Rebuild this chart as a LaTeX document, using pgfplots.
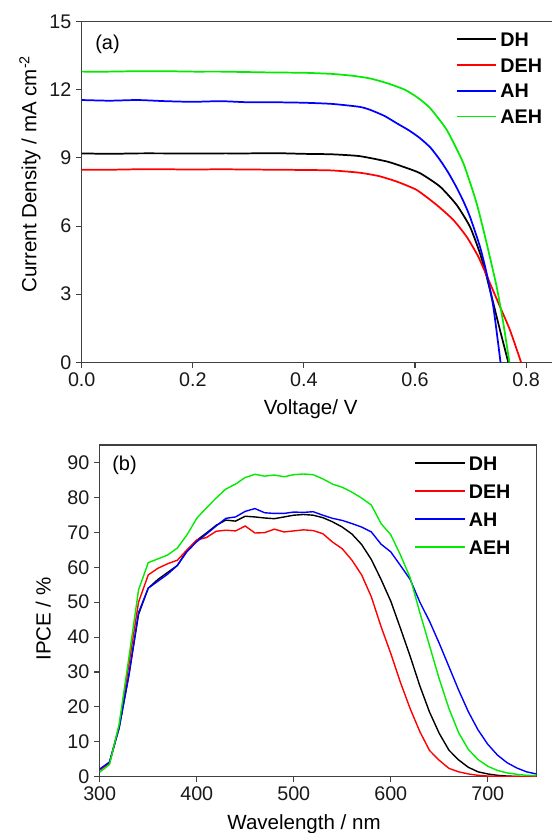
\documentclass[border=0pt]{standalone}
\usepackage{pgfplots}
\pgfplotsset{compat=1.18}
\usepackage{fontspec}
\setmainfont{Liberation Sans}
\definecolor{cgreen}{RGB}{0,235,0}
\definecolor{cred}{RGB}{255,0,0}
\definecolor{cblue}{RGB}{0,0,255}
\begin{document}
\begin{tikzpicture}
\pgfplotsset{
  every axis/.append style={
    scale only axis,
    anchor=south west,
    axis line style={black!75, line width=0.8pt},
    tick style={black!75, line width=0.8pt},
    major tick length=4.2pt,
    tick align=outside,
    tick pos=left,
    /pgf/number format/assume math mode=true,
    tick label style={font=\fontsize{14.8}{17}\selectfont, text=black!90},
    legend cell align=left,
  },
}
% ---------------- (a) ----------------
\begin{axis}[
  at={(61.3pt,353.0pt)},
  width=354.1pt, height=255.5pt,
  xmin=0, xmax=0.85, ymin=0, ymax=15,
  xtick={0,0.2,0.4,0.6,0.8},
  ytick={0,3,6,9,12,15},
  xticklabel style={/pgf/number format/.cd,fixed,fixed zerofill,precision=1},
  xlabel={Voltage/ V},
  ylabel={Current Density / mA cm\textsuperscript{-2}},
  every axis x label/.style={at={(axis description cs:0.4849,-0.138)}, anchor=center, inner sep=0pt, font=\fontsize{15.4}{18}\selectfont},
  every axis y label/.style={at={(axis description cs:-0.1095,0.5529)}, rotate=90, anchor=center, inner sep=0pt, font=\fontsize{15.4}{18}\selectfont},
  legend style={at={(axis description cs:0.7915,0.9698)}, anchor=north west, draw=none, fill=none, inner sep=0pt, row sep=8.7pt, column sep=0pt,
    nodes={inner xsep=2.6pt, inner ysep=0pt, text height=10.6pt, text depth=0pt, font=\fontsize{14.8}{17}\selectfont\bfseries}},
  legend image code/.code={\draw[#1, line width=1.4pt] (0pt,0pt) -- (29.5pt,0pt);},
]
\addplot[black, line width=1.3pt, smooth, tension=0.35] coordinates {
(0,9.2) (0.05,9.18) (0.1,9.2) (0.15,9.2) (0.2,9.19) (0.25,9.2) (0.3,9.2) (0.35,9.21) (0.4,9.18) (0.45,9.16)
(0.5,9.08) (0.55,8.84) (0.58,8.6) (0.609,8.33) (0.645,7.74) (0.675,6.93) (0.699,5.97) (0.717,4.8)
(0.729,3.77) (0.741,2.6) (0.753,1.42) (0.768,0)};
\addlegendentry{DH}
\addplot[cred, line width=1.3pt, smooth, tension=0.35] coordinates {
(0,8.48) (0.05,8.48) (0.1,8.5) (0.15,8.5) (0.2,8.49) (0.25,8.5) (0.3,8.49) (0.35,8.48) (0.4,8.47) (0.45,8.45)
(0.5,8.35) (0.535,8.2) (0.567,7.96) (0.603,7.59) (0.639,6.93) (0.669,6.27) (0.693,5.53) (0.714,4.65)
(0.735,3.48) (0.753,2.45) (0.771,1.42) (0.791,0)};
\addlegendentry{DEH}
\addplot[cblue, line width=1.3pt, smooth, tension=0.35] coordinates {
(0,11.55) (0.05,11.52) (0.1,11.55) (0.15,11.5) (0.2,11.47) (0.25,11.5) (0.3,11.45) (0.35,11.45) (0.4,11.43) (0.45,11.38)
(0.5,11.25) (0.519,11.12) (0.545,10.85) (0.567,10.53) (0.59,10.2) (0.609,9.87) (0.628,9.45) (0.645,8.91)
(0.66,8.35) (0.674,7.74) (0.687,7.1) (0.699,6.41) (0.717,5.09) (0.729,3.92) (0.741,2.45) (0.754,0)};
\addlegendentry{AH}
\addplot[cgreen, line width=1.3pt, smooth, tension=0.35] coordinates {
(0,12.8) (0.05,12.8) (0.1,12.82) (0.15,12.82) (0.2,12.8) (0.25,12.8) (0.3,12.78) (0.35,12.76) (0.4,12.75) (0.45,12.7)
(0.487,12.62) (0.519,12.5) (0.55,12.29) (0.582,12.0) (0.605,11.65) (0.627,11.2) (0.657,10.24) (0.687,8.77)
(0.711,7.0) (0.729,5.24) (0.747,3.33) (0.759,1.72) (0.770,0)};
\addlegendentry{AEH}
\node[anchor=center, inner sep=0pt, font=\fontsize{15}{18}\selectfont] at (axis description cs:0.0547,0.933) {(a)};
\end{axis}
% ---------------- (b) ----------------
\begin{axis}[
  at={(74.8pt,42.2pt)},
  width=327.4pt, height=248.8pt,
  xmin=300, xmax=750, ymin=0, ymax=95,
  xtick={300,400,500,600,700},
  ytick={0,10,...,90},
  xlabel={Wavelength / nm},
  ylabel={IPCE / \%},
  every axis x label/.style={at={(axis description cs:0.468,-0.1435)}, anchor=center, inner sep=0pt, font=\fontsize{15.4}{18}\selectfont},
  every axis y label/.style={at={(axis description cs:-0.1294,0.4754)}, rotate=90, anchor=center, inner sep=0pt, font=\fontsize{15.4}{18}\selectfont},
  legend style={at={(axis description cs:0.7198,0.9677)}, anchor=north west, draw=none, fill=none, inner sep=0pt, row sep=10.4pt, column sep=0pt,
    nodes={inner xsep=2.35pt, inner ysep=0pt, text height=10.6pt, text depth=0pt, font=\fontsize{14.8}{17}\selectfont\bfseries}},
  legend image code/.code={\draw[#1, line width=1.1pt] (0pt,0pt) -- (37.5pt,0pt);},
]
\addplot[black, line width=1.05pt] coordinates {
(300,2) (310,4) (320,14) (330,29) (340,46.5) (350,54) (360,56.5) (370,58.5) (380,60.5) (390,64.8)
(400,67.7) (410,69.8) (420,72) (430,73.5) (440,73.2) (450,74.6) (460,74.4) (470,74.1) (480,73.9) (490,74.4)
(500,74.9) (510,75.1) (520,74.9) (530,74.2) (540,73) (550,71.5) (560,69.5) (570,66.5) (580,62.2) (590,56.5)
(600,50.3) (610,42.5) (620,34.5) (630,26) (640,18.5) (650,12.4) (660,7.6) (670,4.8) (680,2.7) (690,1.4)
(700,0.8) (710,0.4) (720,0.2) (730,0.1) (740,0.05) (750,0)};
\addlegendentry{DH}
\addplot[cred, line width=1.05pt] coordinates {
(300,2) (310,3.8) (320,14.5) (330,32) (340,50) (350,57.8) (360,59.7) (370,61) (380,62) (390,65)
(400,67.8) (410,68.5) (420,70.3) (430,70.6) (440,70.4) (450,71.8) (460,69.8) (470,69.9) (480,70.9) (490,70.1)
(500,70.4) (510,70.7) (520,70.5) (530,69.6) (540,67.2) (550,65.3) (560,62) (570,57.8) (580,51.5) (590,43)
(600,35.3) (610,27) (620,19.5) (630,12.9) (640,7.5) (650,4.7) (660,2.4) (670,1.4) (680,0.8) (690,0.4)
(700,0.2) (710,0.1) (720,0.05) (730,0) (740,0) (750,0)};
\addlegendentry{DEH}
\addplot[cblue, line width=1.05pt] coordinates {
(300,2.2) (310,4.2) (320,14) (330,29) (340,47) (350,54) (360,56) (370,58) (380,60.5) (390,64.5)
(400,67.3) (410,69.5) (420,71.8) (430,74) (440,74.4) (450,76) (460,76.8) (470,75.6) (480,75.4) (490,75.4)
(500,75.8) (510,75.7) (520,75.9) (530,74.9) (540,74) (550,73.4) (560,72.5) (570,71.5) (580,70.1) (590,66.6)
(600,64.4) (610,60.5) (620,56.5) (630,50) (640,44.5) (650,38.2) (660,31.5) (670,24.8) (680,18.6) (690,13.4)
(700,9.3) (710,6.2) (720,4) (730,2.5) (740,1.4) (750,0.8)};
\addlegendentry{AH}
\addplot[cgreen, line width=1.05pt] coordinates {
(300,1.3) (310,3.5) (320,15) (330,34) (340,53.5) (350,61.3) (360,62.4) (370,63.5) (380,65.5) (390,69.3)
(400,74) (410,77) (420,79.8) (430,82.4) (440,83.8) (450,85.7) (460,86.6) (470,86.1) (480,86.4) (490,85.9)
(500,86.5) (510,86.7) (520,86.5) (530,85.3) (540,83.8) (550,82.9) (560,81.5) (570,79.8) (580,77.8) (590,72.5)
(600,69.3) (610,63.5) (620,57) (630,47) (640,37.5) (650,28) (660,19.5) (670,12.6) (680,7.8) (690,4.9)
(700,3) (710,1.8) (720,1.1) (730,0.7) (740,0.4) (750,0.3)};
\addlegendentry{AEH}
\node[anchor=center, inner sep=0pt, font=\fontsize{15}{18}\selectfont] at (axis description cs:0.0568,0.9397) {(b)};
\end{axis}
\pgfresetboundingbox
\useasboundingbox (0,0) rectangle (414pt,624.75pt);
\end{tikzpicture}
\end{document}
